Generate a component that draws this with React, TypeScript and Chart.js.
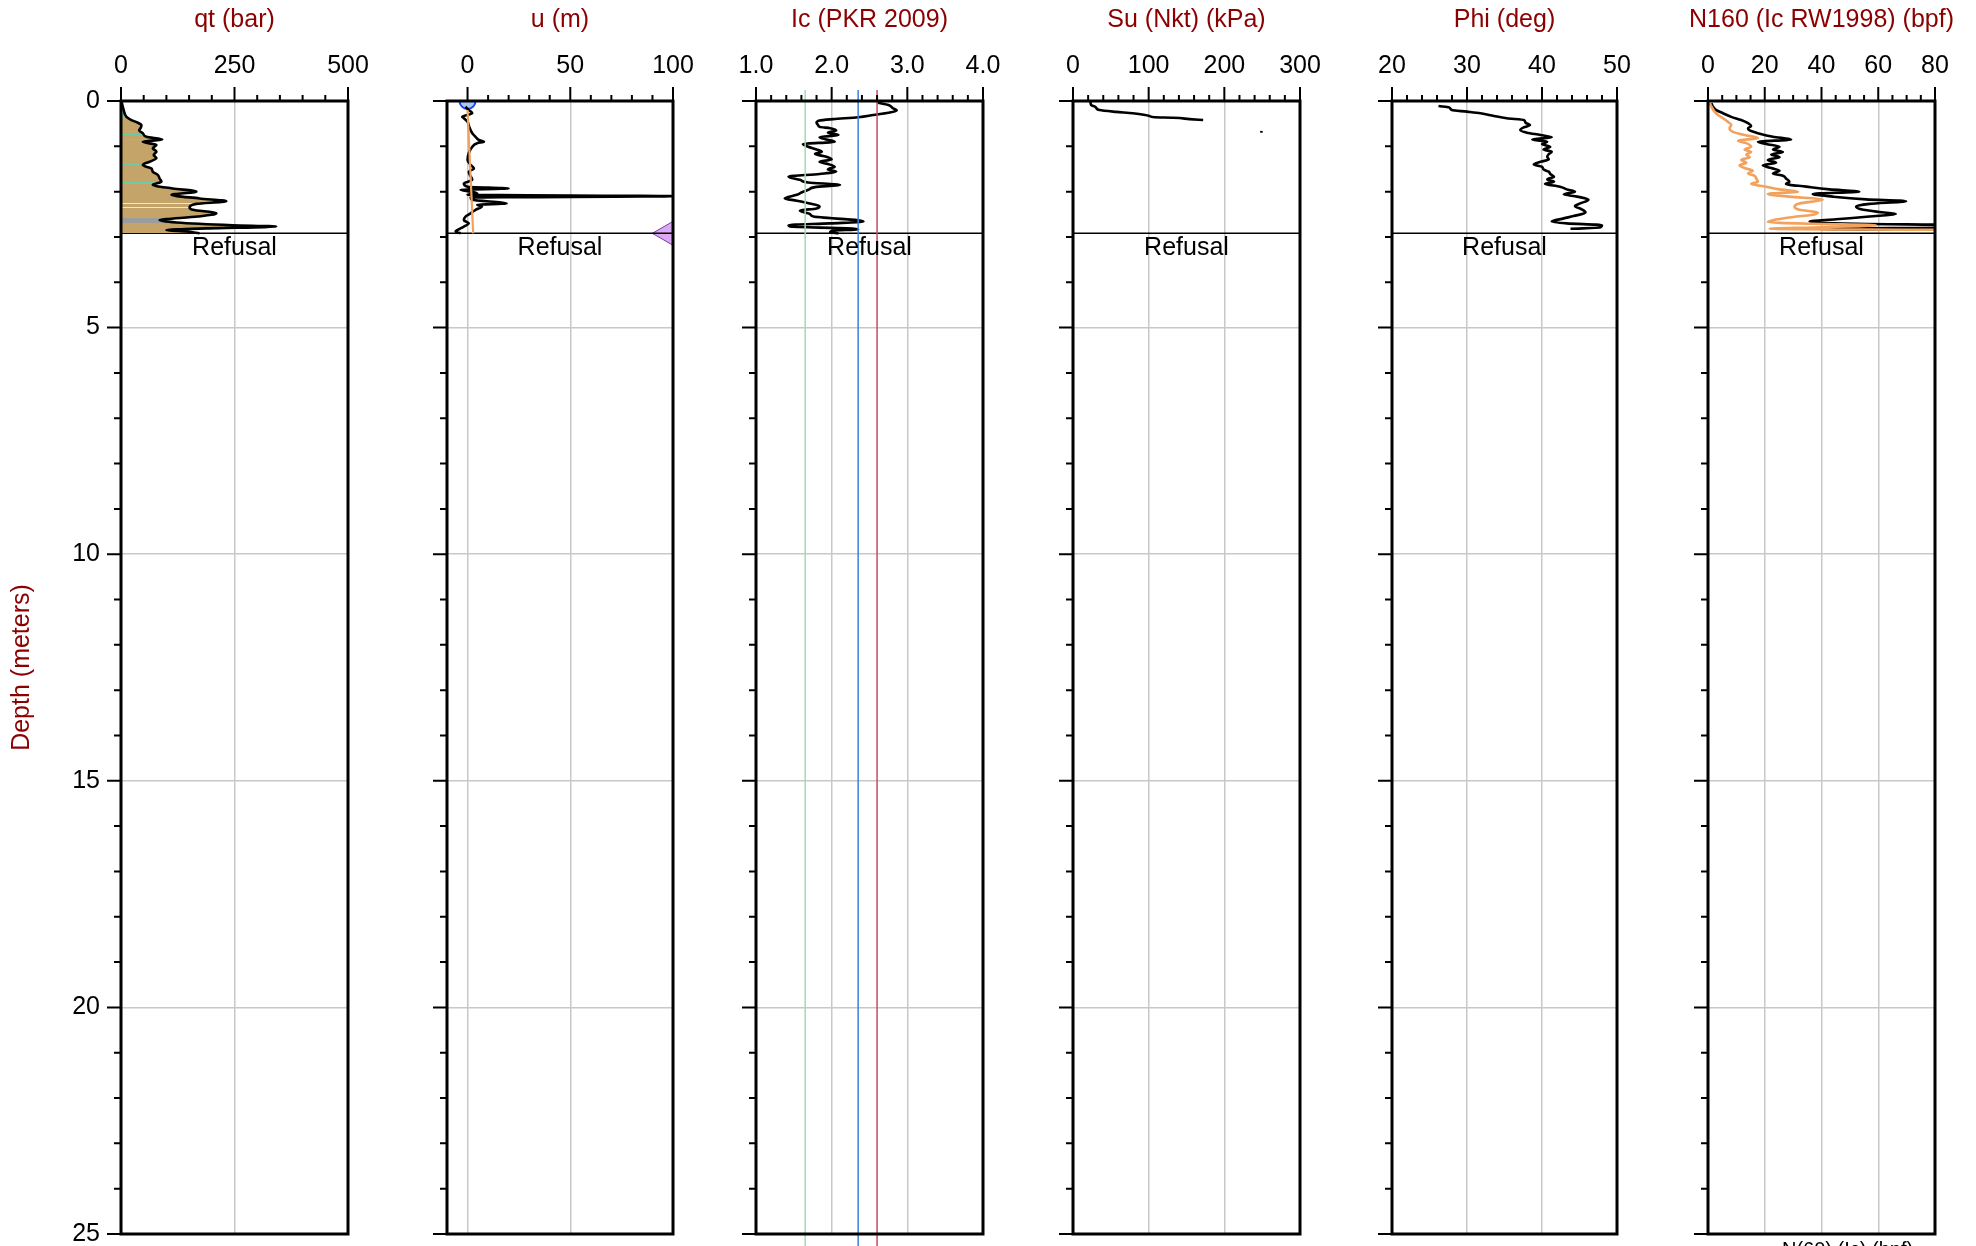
import React, { useEffect, useRef } from "react";
import { Chart, registerables } from "chart.js";

Chart.register(...registerables);

// ---------------- data ----------------
const REFUSAL_DEPTH = 2.92;
const DEPTH_MIN = 0;
const DEPTH_MAX = 25;

// qt (bar)
const qtDepth = [0.01, 0.2, 0.35, 0.42, 0.48, 0.53, 0.58, 0.65, 0.71, 0.79, 0.85, 0.9, 0.97, 1.04, 1.12, 1.19, 1.26, 1.34, 1.41, 1.49, 1.56, 1.63, 1.71, 1.78, 1.85, 1.93, 2.0, 2.07, 2.15, 2.21, 2.27, 2.35, 2.4, 2.48, 2.55, 2.63, 2.68, 2.74, 2.77, 2.81, 2.85, 2.88, 2.92];
const qtValue = [1, 6, 12, 23, 37, 45, 44, 40, 48, 56, 91, 48, 78, 70, 78, 72, 78, 63, 48, 67, 70, 81, 85, 89, 70, 114, 166, 111, 173, 232, 166, 151, 158, 210, 169, 85, 122, 246, 342, 188, 100, 144, 173];
// soil behaviour bands shown inside the qt fill
const sbtBandTop = [0.0, 0.66, 0.72, 0.83, 1.4, 1.79, 2.26, 2.34, 2.58];
const sbtBandBottom = [0.38, 0.68, 0.75, 0.86, 1.42, 1.84, 2.28, 2.36, 2.69];
const sbtBandKind = ["sand-mix", "sand-mix", "sand-mix", "sand-mix", "sand-mix", "sand-mix", "gravel", "gravel", "silt"];

// u (m)
const uDepth = [0.125, 0.2, 0.27, 0.35, 0.38, 0.46, 0.57, 0.71, 0.79, 0.86, 0.9, 0.93, 1.01, 1.15, 1.3, 1.41, 1.49, 1.56, 1.63, 1.74, 1.82, 1.89, 1.93, 1.96, 2.0, 2.04, 2.07, 2.1, 2.13, 2.18, 2.26, 2.29, 2.33, 2.4, 2.48, 2.55, 2.63, 2.7, 2.77, 2.85, 2.88, 2.92];
const uValue = [-1, 0.6, 2.3, -2.6, -1.8, 0, 0.8, 2.3, 3.9, 5.5, 8, 4.7, 2.3, 0.6, 0, 1.5, 3.1, 0.6, 1.1, 2.3, -1.8, 0, 20, -3.4, 1.5, 4.7, 0, 100, 1.5, 2.3, 19, 4.7, 7, 3.9, 1.5, -1, -1.8, 0.6, -1.8, -5, -5.8, -3.4];
const uHydroDepth = [0.2, 2.92];
const uHydroValue = [0, 2.75];
const gwDepth = [0];
const gwValue = [0];
const dissipationDepth = [2.92];
const dissipationValue = [96.5];

// Ic (PKR 2009)
const icDepth = [0.04, 0.09, 0.16, 0.21, 0.26, 0.31, 0.36, 0.4, 0.43, 0.48, 0.53, 0.57, 0.6, 0.65, 0.7, 0.75, 0.8, 0.85, 0.9, 0.95, 1.01, 1.07, 1.12, 1.17, 1.23, 1.29, 1.34, 1.39, 1.45, 1.51, 1.56, 1.61, 1.67, 1.74, 1.8, 1.85, 1.9, 1.96, 2.02, 2.07, 2.15, 2.2, 2.26, 2.32, 2.37, 2.42, 2.49, 2.55, 2.63, 2.66, 2.7, 2.74, 2.77, 2.81, 2.83, 2.86, 2.9, 2.92];
const icValue = [2.61, 2.75, 2.81, 2.86, 2.75, 2.55, 2.35, 2.02, 1.84, 1.8, 1.82, 1.84, 1.98, 2.06, 1.95, 2.09, 1.84, 1.93, 2.04, 1.62, 1.69, 1.8, 1.87, 1.78, 1.93, 2.0, 1.84, 1.95, 2.04, 1.95, 2.06, 1.84, 1.43, 1.58, 1.69, 2.11, 1.78, 1.69, 1.6, 1.54, 1.38, 1.54, 1.71, 1.84, 1.8, 1.58, 1.71, 1.76, 2.35, 2.42, 1.98, 1.43, 1.45, 2.2, 2.35, 2.02, 1.98, 2.09];
const icBoundaryValue = [1.65, 2.35, 2.6];
const icBoundaryColor = ["#9fdcb0", "#3f7fdc", "#cc4a5e"];
const icBoundaryDepth = [-0.24, 25.6];

// Su (Nkt) (kPa)
const suDepth = [0.01, 0.09, 0.125, 0.16, 0.2, 0.24, 0.27, 0.33, 0.36, 0.37, 0.4, 0.42];
const suValue = [23, 24, 29, 31, 35, 57, 79, 101, 108, 132, 154, 172];
const suDashDepth = [0.66, 0.7];
const suDashValue = [249, 249];

// Phi (deg)
const phiDepth = [0.11, 0.14, 0.2, 0.235, 0.27, 0.33, 0.38, 0.42, 0.48, 0.53, 0.58, 0.64, 0.7, 0.75, 0.8, 0.85, 0.9, 0.95, 1.01, 1.07, 1.12, 1.17, 1.23, 1.29, 1.35, 1.4, 1.45, 1.51, 1.56, 1.61, 1.67, 1.73, 1.78, 1.83, 1.89, 1.95, 2.0, 2.06, 2.11, 2.18, 2.26, 2.32, 2.39, 2.46, 2.54, 2.59, 2.66, 2.7, 2.74, 2.79, 2.82];
const phiValue = [26.2, 27.6, 28.0, 30.0, 31.8, 33.6, 35.3, 37.6, 37.8, 38.4, 37.6, 37.1, 38.0, 39.8, 41.3, 38.7, 40.7, 40.0, 41.1, 40.2, 41.3, 40.9, 40.7, 40.9, 39.6, 38.9, 40.0, 40.2, 40.9, 41.1, 41.6, 40.7, 41.6, 40.4, 42.4, 43.3, 44.4, 42.9, 44.7, 46.2, 45.1, 44.4, 45.3, 45.8, 44.2, 42.9, 41.3, 43.3, 48.0, 47.8, 43.8];

// N160 (Ic RW1998) (bpf)
const n160Depth = [0.05, 0.125, 0.2, 0.27, 0.35, 0.42, 0.49, 0.55, 0.6, 0.65, 0.71, 0.79, 0.85, 0.9, 0.95, 1.01, 1.07, 1.125, 1.18, 1.24, 1.3, 1.36, 1.42, 1.48, 1.54, 1.6, 1.65, 1.71, 1.78, 1.83, 1.89, 1.95, 2.0, 2.05, 2.11, 2.17, 2.21, 2.27, 2.33, 2.39, 2.45, 2.49, 2.55, 2.61, 2.66, 2.71, 2.74, 2.79, 2.82, 2.85, 2.89];
const n160Value = [1.2, 1.8, 2.9, 5.3, 8.2, 11.7, 14.1, 15.2, 14.1, 14.7, 17.6, 22.9, 29.3, 17.6, 20.5, 25.2, 22.9, 26.4, 22.3, 25.2, 21.1, 24.0, 19.3, 22.3, 25.2, 22.9, 26.4, 27.5, 28.7, 27.5, 34.6, 42.8, 53.3, 36.9, 44.0, 55.7, 69.8, 56.9, 52.2, 53.9, 60.4, 66.2, 56.9, 45.1, 35.8, 52.2, 90, 90, 38.1, 90, 90];
const n160IcDepth = [0.05, 0.125, 0.235, 0.31, 0.38, 0.46, 0.53, 0.6, 0.68, 0.75, 0.82, 0.875, 0.93, 1.01, 1.07, 1.125, 1.18, 1.24, 1.3, 1.36, 1.42, 1.48, 1.54, 1.6, 1.65, 1.71, 1.78, 1.83, 1.89, 1.95, 2.0, 2.05, 2.11, 2.18, 2.26, 2.33, 2.4, 2.46, 2.51, 2.57, 2.63, 2.67, 2.71, 2.74, 2.79, 2.82, 2.85, 2.89];
const n160IcValue = [0.6, 1.2, 2.3, 3.5, 5.3, 7.0, 8.2, 7.6, 8.8, 12.9, 17.6, 10.6, 13.5, 15.2, 12.9, 15.2, 13.5, 14.7, 11.7, 13.5, 11.1, 12.9, 15.8, 14.1, 16.4, 17.0, 17.6, 15.2, 20.5, 25.2, 31.7, 21.1, 28.7, 40.4, 32.2, 30.5, 32.2, 38.7, 36.9, 28.7, 22.9, 21.1, 36.9, 59.2, 36.9, 21.7, 90, 90];

// ---------------- style / layout ----------------
const PAGE_W = 1976;
const PAGE_H = 1246;
const PLOT_TOP = 101;
const PLOT_BOTTOM = 1234;
const FONT = "'Liberation Sans', Arial, Helvetica, sans-serif";
const TITLE_COLOR = "#8b0000";
const GRID_COLOR = "#c8c8c8";
const TAN = "#c4a468";
const BAND_COLORS: Record<string, string> = { "sand-mix": "#6fcba5", gravel: "#e9e6df", silt: "#9c9c9c" };
const ORANGE = "#f2a25c";

const pts = (vals: number[], depths: number[]) => vals.map((x, i) => ({ x, y: depths[i] }));
const near = (a: number, b: number) => Math.abs(a - b) < 1e-6;
const isMajor = (v: number, step: number) => Math.abs(v / step - Math.round(v / step)) < 1e-6;

const refusalSet = (min: number, max: number) => ({
  data: [{ x: min, y: REFUSAL_DEPTH }, { x: max, y: REFUSAL_DEPTH }],
  borderColor: "#000",
  borderWidth: 1.5,
  tension: 0,
  pointRadius: 0,
});

const curve = (vals: number[], depths: number[], color = "#000") => ({
  data: pts(vals, depths),
  borderColor: color,
  borderWidth: 2.6,
  pointRadius: 0,
  cubicInterpolationMode: "monotone",
  fill: false,
});

type Panel = {
  title: string;
  min: number;
  max: number;
  minor: number;
  major: number;
  decimals: number;
  left: number;
  right: number;
  depthLabels?: boolean;
  footnote?: string;
  datasets: () => any[];
};

const panels: Panel[] = [
  {
    title: "qt (bar)", min: 0, max: 500, minor: 50, major: 250, decimals: 0, left: 121, right: 348, depthLabels: true,
    datasets: () => [
      {
        ...curve(qtValue, qtDepth),
        fill: "origin",
        backgroundColor: (ctx: any) => {
          const chart = ctx.chart;
          if (!chart.chartArea || !chart.scales.y) return TAN;
          const ys = chart.scales.y;
          const y0 = ys.getPixelForValue(0);
          const y1 = ys.getPixelForValue(REFUSAL_DEPTH);
          const g = chart.ctx.createLinearGradient(0, y0, 0, y1);
          const f = (d: number) => Math.min(1, Math.max(0, d / REFUSAL_DEPTH));
          g.addColorStop(0, TAN);
          sbtBandTop.forEach((d0, i) => {
            const c = BAND_COLORS[sbtBandKind[i]];
            g.addColorStop(f(d0), TAN);
            g.addColorStop(f(d0), c);
            g.addColorStop(f(sbtBandBottom[i]), c);
            g.addColorStop(f(sbtBandBottom[i]), TAN);
          });
          g.addColorStop(1, TAN);
          return g;
        },
      },
      refusalSet(0, 500),
    ],
  },
  {
    title: "u (m)", min: -10, max: 100, minor: 10, major: 50, decimals: 0, left: 447, right: 673,
    datasets: () => [
      { ...curve(uHydroValue, uHydroDepth, ORANGE), tension: 0, borderWidth: 2.2 },
      curve(uValue, uDepth),
      refusalSet(-10, 100),
      {
        data: pts(gwValue, gwDepth), showLine: false, pointRadius: 8, pointBackgroundColor: "#a9c9f2",
        pointBorderColor: "#1f3fff", pointBorderWidth: 2,
      },
      {
        data: pts(dissipationValue, dissipationDepth), showLine: false, pointStyle: "triangle", pointRotation: -90,
        pointRadius: 13.5, pointBackgroundColor: "#dba9f3", pointBorderColor: "#7a3d99", pointBorderWidth: 1, clip: false,
      },
    ],
  },
  {
    title: "Ic (PKR 2009)", min: 1, max: 4, minor: 0.2, major: 1, decimals: 1, left: 756, right: 983,
    datasets: () => [
      ...icBoundaryValue.map((v, i) => ({
        data: icBoundaryDepth.map((d) => ({ x: v, y: d })),
        borderColor: icBoundaryColor[i], borderWidth: 1.5, pointRadius: 0, tension: 0, clip: false,
      })),
      curve(icValue, icDepth),
      refusalSet(1, 4),
    ],
  },
  {
    title: "Su (Nkt) (kPa)", min: 0, max: 300, minor: 20, major: 100, decimals: 0, left: 1073, right: 1300,
    datasets: () => [curve(suValue, suDepth), { ...curve(suDashValue, suDashDepth), tension: 0 }, refusalSet(0, 300)],
  },
  {
    title: "Phi (deg)", min: 20, max: 50, minor: 2, major: 10, decimals: 0, left: 1392, right: 1617,
    datasets: () => [curve(phiValue, phiDepth), refusalSet(20, 50)],
  },
  {
    title: "N160 (Ic RW1998) (bpf)", min: 0, max: 80, minor: 5, major: 20, decimals: 0, left: 1708, right: 1935,
    footnote: "N(60) (Ic) (bpf)",
    datasets: () => [curve(n160IcValue, n160IcDepth, ORANGE), curve(n160Value, n160Depth), refusalSet(0, 80)],
  },
];

function PanelChart({ panel, index }: { panel: Panel; index: number }) {
  const ref = useRef<HTMLCanvasElement | null>(null);
  const leftMargin = index === 0 ? panel.left : 90;
  const rightMargin = 41;
  const canvasLeft = panel.left - leftMargin;
  const width = panel.right + rightMargin - canvasLeft;

  useEffect(() => {
    if (!ref.current) return;
    const p = panel;
    const framePlugin = {
      id: "frame" + index,
      afterDraw(chart: any) {
        const { ctx, chartArea: a, scales } = chart;
        ctx.save();
        ctx.strokeStyle = "#000";
        ctx.lineWidth = 2;
        ctx.beginPath();
        for (const t of scales.x.ticks) {
          const v = t.value;
          const major = isMajor(v, p.major);
          if (!major && (near(v, p.min) || near(v, p.max))) continue;
          const px = scales.x.getPixelForValue(v);
          ctx.moveTo(px, a.top);
          ctx.lineTo(px, a.top - (major ? 14 : 6));
        }
        for (const t of scales.y.ticks) {
          const v = t.value;
          const major = isMajor(v, 5);
          const py = scales.y.getPixelForValue(v);
          ctx.moveTo(a.left, py);
          ctx.lineTo(a.left - (major ? 14 : 7), py);
        }
        ctx.stroke();
        ctx.lineWidth = 3;
        ctx.strokeRect(a.left, a.top, a.right - a.left, a.bottom - a.top);
        // panel title (drawn without width squeezing)
        ctx.fillStyle = TITLE_COLOR;
        ctx.font = `25px ${FONT}`;
        ctx.textAlign = "center";
        ctx.textBaseline = "middle";
        ctx.fillText(p.title, (a.left + a.right) / 2, 20);
        // refusal label
        ctx.fillStyle = "#000";
        ctx.textBaseline = "alphabetic";
        ctx.fillText("Refusal", (a.left + a.right) / 2, scales.y.getPixelForValue(REFUSAL_DEPTH) + 22);
        if (p.footnote) {
          ctx.font = `20px ${FONT}`;
          ctx.textAlign = "left";
          ctx.textBaseline = "top";
          ctx.fillText(p.footnote, a.left + 74, a.bottom + 6);
        }
        ctx.restore();
      },
    };

    const chart = new Chart(ref.current, {
      type: "line",
      data: { datasets: p.datasets() as any },
      options: {
        indexAxis: "y",
        animation: false,
        responsive: false,
        maintainAspectRatio: false,
        devicePixelRatio: 1,
        layout: { autoPadding: false, padding: { left: 0, right: rightMargin, top: 0, bottom: PAGE_H - PLOT_BOTTOM } },
        plugins: { legend: { display: false }, tooltip: { enabled: false }, title: { display: false } },
        elements: { point: { radius: 0 }, line: { borderWidth: 2 } },
        scales: {
          x: {
            type: "linear",
            position: "top",
            min: p.min,
            max: p.max,
            ticks: {
              stepSize: p.minor,
              autoSkip: false,
              maxRotation: 0,
              minRotation: 0,
              padding: 20,
              color: "#000",
              font: { family: FONT, size: 25 },
              callback: (v: any) => (isMajor(Number(v), p.major) ? Number(v).toFixed(p.decimals) : ""),
            },
            grid: {
              drawTicks: false,
              lineWidth: 1.5,
              color: (ctx: any) => {
                const v = ctx.tick ? ctx.tick.value : NaN;
                return isMajor(v, p.major) && !near(v, p.min) && !near(v, p.max) ? GRID_COLOR : "rgba(0,0,0,0)";
              },
            },
            border: { display: false },
            title: { display: false },
            afterFit: (s: any) => {
              s.height = PLOT_TOP;
              s.paddingLeft = 0;
              s.paddingRight = 0;
            },
          } as any,
          y: {
            type: "linear",
            position: "left",
            reverse: true,
            min: DEPTH_MIN,
            max: DEPTH_MAX,
            ticks: {
              stepSize: 1,
              autoSkip: false,
              padding: 21,
              color: "#000",
              font: { family: FONT, size: 25 },
              callback: (v: any) => (p.depthLabels && isMajor(Number(v), 5) ? String(v) : ""),
            },
            grid: {
              drawTicks: false,
              lineWidth: 1.5,
              color: (ctx: any) => {
                const v = ctx.tick ? ctx.tick.value : NaN;
                return isMajor(v, 5) && v > DEPTH_MIN && v < DEPTH_MAX ? GRID_COLOR : "rgba(0,0,0,0)";
              },
            },
            border: { display: false },
            title: {
              display: !!p.depthLabels,
              text: "Depth (meters)",
              color: TITLE_COLOR,
              font: { family: FONT, size: 25 },
              padding: { top: 7, bottom: 0 },
            },
            afterFit: (s: any) => {
              s.width = leftMargin;
              s.paddingTop = 0;
              s.paddingBottom = 0;
            },
          } as any,
        },
      } as any,
      plugins: [framePlugin],
    });
    return () => chart.destroy();
  }, []);

  return (
    <canvas
      ref={ref}
      width={width}
      height={PAGE_H}
      style={{ position: "absolute", left: canvasLeft, top: 0, width, height: PAGE_H }}
    />
  );
}

export default function App() {
  return (
    <div
      style={{
        position: "fixed",
        left: 0,
        top: 0,
        width: PAGE_W,
        height: PAGE_H,
        overflow: "hidden",
        background: "#fff",
      }}
    >
      {panels.map((p, i) => (
        <PanelChart key={p.title} panel={p} index={i} />
      ))}
    </div>
  );
}
